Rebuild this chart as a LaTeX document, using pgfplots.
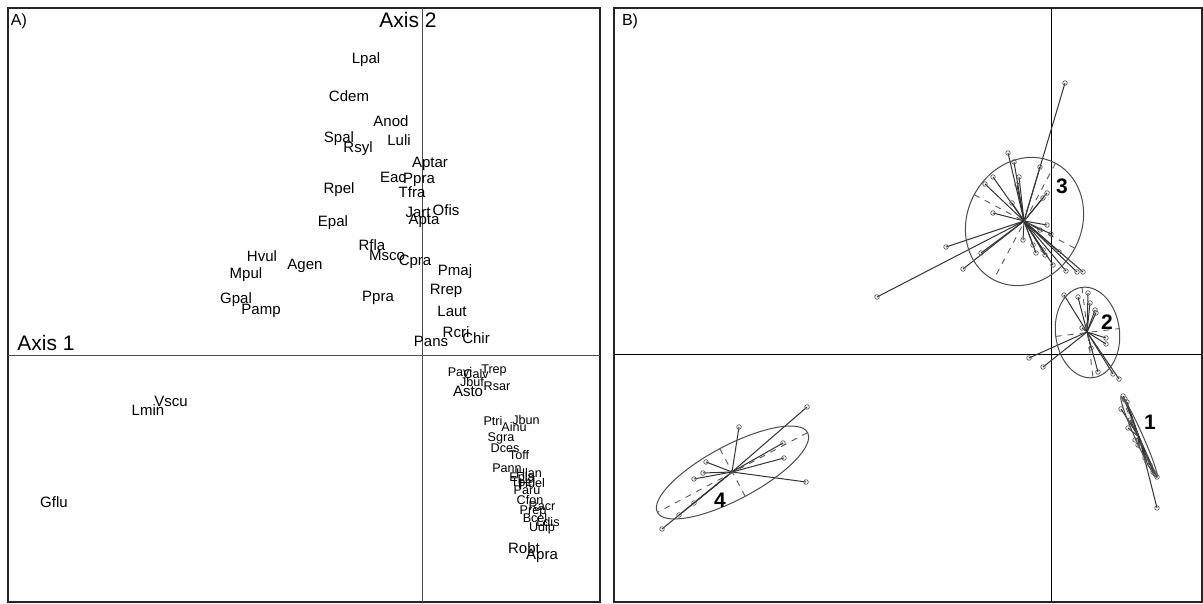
\documentclass[border=0pt]{standalone}
\usepackage{pgfplots}
\usepackage{pgfplotstable}
\usepackage{fontspec}
\setmainfont{Liberation Sans}
\pgfplotsset{compat=1.18}

% panel A: species scores (centre of each label), big and small labels
\pgfplotstableread{
x y label
-56 296 Lpal
-73 260 Cdem
-31 235 Anod
-23 216 Luli
-83 217 Spal
-64 207 Rsyl
8 192 Aptar
-29 179 Eac
-3 176 Ppra
-10 164 Tfra
-83 166 Rpel
-4 144 Jart
24 146 Ofis
2 135 Apta
-89 133 Epal
-50 111 Rfla
-35 101 Msco
-7 94 Cpra
-160 100 Hvul
-117 90 Agen
-176 81 Mpul
33 84 Pmaj
-186 56 Gpal
-161 45 Pamp
-44 58 Ppra
24 65 Rrep
30 45 Laut
34 24 Rcri
54 18 Chir
9 15 Pans
-251 -45 Vscu
-274 -54 Lmin
-368 -146 Gflu
46 -35 Asto
102 -192 Robt
120 -200 Apra
}\specbig

\pgfplotstableread{
x y label
38 -16 Pavi
54 -18 Calv
72 -14 Trep
50 -26 Jbuf
75 -30 Rsar
71 -65 Ptri
104 -64 Jbun
92 -71 Ainu
79 -82 Sgra
83 -92 Dces
97 -99 Toff
85 -112 Pann
107 -117 Hlan
100 -122 Epla
101 -127 Tpel
110 -127 Hdel
105 -134 Paru
108 -144 Cfon
120 -150 Racr
111 -155 Prep
113 -162 Bcel
126 -166 Ldis
120 -172 Udip
}\specsmall

% panel B: sites, one table per group
\pgfplotstableread{
x y
72 -41
74 -44
76 -47
70 -54
77 -73
79 -65
80 -69
84 -85
87 -90
89 -91
94 -103
96 -107
99 -110
102 -117
104 -119
106 -122
106 -153
}\gone

\pgfplotstableread{
x y
13 60
27 58
37 62
39 52
44 45
45 42
31 27
55 17
55 11
40 7
-22 -3
-8 -12
47 -17
62 -19
68 -24
}\gtwo

\pgfplotstableread{
x y
14 272
-43 202
-37 193
-32 178
-58 178
-66 171
-34 170
-11 188
-4 162
-8 157
-39 152
-58 142
-4 130
0 121
-105 108
-70 102
-88 86
-174 58
-18 110
-15 102
-8 105
-6 100
2 90
8 103
15 84
26 83
32 83
-11 125
-28 115
}\gthree

\pgfplotstableread{
x y
-244 -52
-312 -72
-268 -88
-267 -103
-345 -107
-348 -118
-357 -124
-245 -127
-357 -148
-372 -160
-389 -174
}\gfour

\pgfplotsset{
  panel/.style={x=0.5pt, y=0.5pt, anchor=origin,
    xtick=\empty, ytick=\empty,
    axis line style={black!85, line width=0.6pt}},
  star/.style={mark=none, draw=black!80, line width=0.5pt},
  pts/.style={only marks, mark=o, mark size=1.15pt,
    mark options={draw=black!65, line width=0.35pt}},
  ellaxis/.style={black!65, dashed, line width=0.45pt, unbounded coords=jump}
}

\begin{document}
\begin{tikzpicture}
\path (0,0) rectangle (601.5pt,302pt);

% ---------- A ----------
\begin{axis}[panel, at={(211pt,124pt)},
  xmin=-414, xmax=178, ymin=-246, ymax=348]
\addplot[black!70, line width=0.5pt] coordinates {(0,-246) (0,348)};
\addplot[black!70, line width=0.5pt] coordinates {(-414,0) (178,0)};
\addplot[draw=none, mark=none, nodes near coords, point meta=explicit symbolic,
  nodes near coords align=center,
  nodes near coords style={anchor=center, inner sep=0pt, black,
    font=\fontsize{7.5}{8}\selectfont}]
  table[meta=label] {\specbig};
\addplot[draw=none, mark=none, nodes near coords, point meta=explicit symbolic,
  nodes near coords align=center,
  nodes near coords style={anchor=center, inner sep=0pt, black,
    font=\fontsize{6.3}{7}\selectfont}]
  table[meta=label] {\specsmall};
\node[font=\fontsize{10.5}{12}\selectfont, inner sep=0pt] at (axis cs:-14,336) {Axis 2};
\node[font=\fontsize{10.5}{12}\selectfont, inner sep=0pt] at (axis cs:-376,13) {Axis 1};
\node[font=\fontsize{8}{9}\selectfont, inner sep=0pt] at (axis cs:-403,335) {A)};
\end{axis}

% ---------- B ----------
\begin{axis}[panel, at={(525.5pt,124.5pt)},
  xmin=-437, xmax=151, ymin=-247, ymax=347]
\addplot[black, line width=0.5pt] coordinates {(0,-247) (0,347)};
\addplot[black, line width=0.5pt] coordinates {(-437,0) (151,0)};

\addplot[star, quiver={u={88-(\thisrow{x})}, v={-82-(\thisrow{y})}}] table {\gone};
\addplot[star, quiver={u={36-(\thisrow{x})}, v={23-(\thisrow{y})}}] table {\gtwo};
\addplot[star, quiver={u={-27-(\thisrow{x})}, v={134-(\thisrow{y})}}] table {\gthree};
\addplot[star, quiver={u={-319-(\thisrow{x})}, v={-117-(\thisrow{y})}}] table {\gfour};

\addplot[pts] table {\gone};
\addplot[pts] table {\gtwo};
\addplot[pts] table {\gthree};
\addplot[pts] table {\gfour};

% ellipse axes
\addplot[ellaxis] coordinates {(4.5,191.8) (-57.5,75.2) (nan,nan) (-76.8,160.3) (23.8,106.7)};
\addplot[ellaxis] coordinates {(31.0,67.7) (42.0,-22.7) (nan,nan) (4.7,18.6) (68.3,26.4)};
\addplot[ellaxis] coordinates {(70.1,-41.8) (105.9,-122.2)};
\addplot[ellaxis] coordinates {(-243.5,-77.6) (-393.5,-157.4) (nan,nan) (-331.2,-93.7) (-305.8,-141.3)};

\draw[black!70, line width=0.5pt, rotate around={62:(axis cs:-26.5,133.5)}]
  (axis cs:-26.5,133.5) ellipse [x radius=66, y radius=57];
\draw[black!70, line width=0.5pt, rotate around={97:(axis cs:36.5,22.5)}]
  (axis cs:36.5,22.5) ellipse [x radius=45.5, y radius=32];
\draw[black!70, line width=0.5pt, rotate around={114:(axis cs:88,-82)}]
  (axis cs:88,-82) ellipse [x radius=44, y radius=4];
\draw[black!70, line width=0.5pt, rotate around={28:(axis cs:-318.5,-117.5)}]
  (axis cs:-318.5,-117.5) ellipse [x radius=85, y radius=27];

\node[font=\bfseries\fontsize{10.5}{12}\selectfont] at (axis cs:11,169) {3};
\node[font=\bfseries\fontsize{10.5}{12}\selectfont] at (axis cs:56,33) {2};
\node[font=\bfseries\fontsize{10.5}{12}\selectfont] at (axis cs:99,-67) {1};
\node[font=\bfseries\fontsize{10.5}{12}\selectfont] at (axis cs:-331,-145) {4};
\node[font=\fontsize{8}{9}\selectfont, inner sep=0pt] at (axis cs:-421,334) {B)};
\end{axis}
\end{tikzpicture}
\end{document}
